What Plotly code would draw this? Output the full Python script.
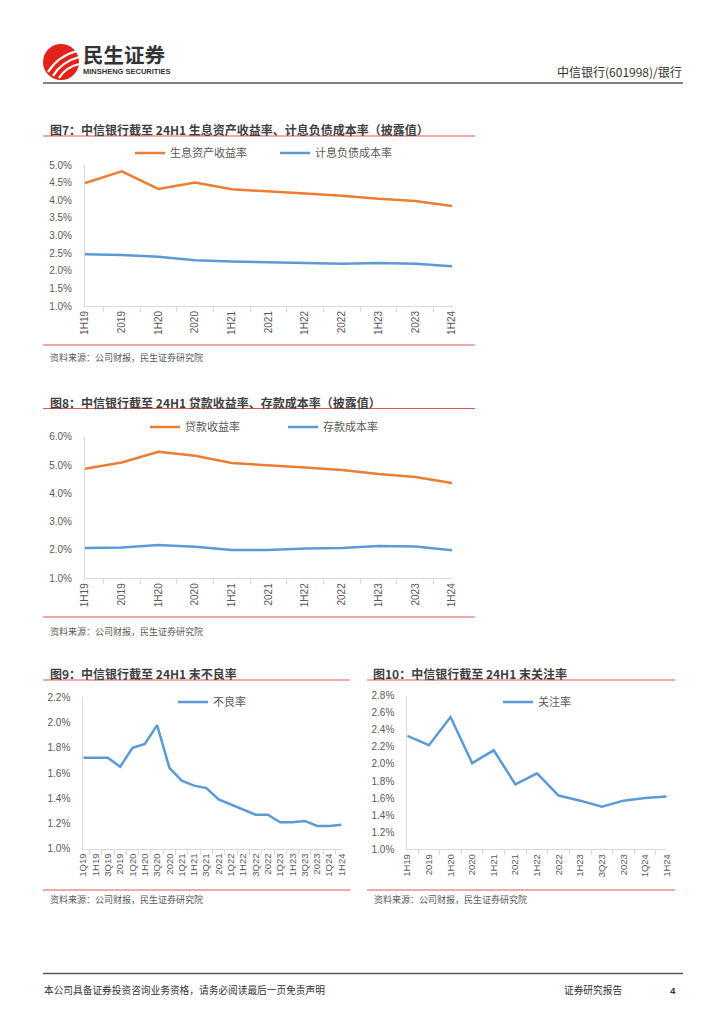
import plotly.graph_objects as go

W, H = 724, 1024


def px(x):
    return x / W


def py(y):
    return 1 - y / H


# ---------------- data ----------------
cats7 = ["1H19", "2019", "1H20", "2020", "1H21", "2021", "1H22", "2022", "1H23", "2023", "1H24"]
yield_assets = [4.49, 4.82, 4.32, 4.50, 4.31, 4.26, 4.19, 4.13, 4.04, 3.98, 3.84]
cost_liab = [2.47, 2.45, 2.40, 2.30, 2.26, 2.25, 2.22, 2.20, 2.22, 2.20, 2.13]

cats8 = ["1H19", "2019", "1H20", "2020", "1H21", "2021", "1H22", "2022", "1H23", "2023", "1H24"]
loan_yield = [4.87, 5.09, 5.47, 5.33, 5.07, 5.00, 4.91, 4.82, 4.68, 4.58, 4.36]
deposit_cost = [2.07, 2.09, 2.18, 2.11, 2.00, 2.00, 2.05, 2.07, 2.14, 2.12, 1.99]

cats9 = ["1Q19", "1H19", "3Q19", "2019", "1Q20", "1H20", "3Q20", "2020", "1Q21", "1H21", "3Q21",
         "2021", "1Q22", "1H22", "3Q22", "2022", "1Q23", "1H23", "3Q23", "2023", "1Q24", "1H24"]
npl_ratio = [1.72, 1.72, 1.72, 1.65, 1.80, 1.83, 1.98, 1.64, 1.54, 1.50, 1.48,
             1.39, 1.35, 1.31, 1.27, 1.27, 1.21, 1.21, 1.22, 1.18, 1.18, 1.19]

cats10 = ["1H19", "2019", "1H20", "2020", "1H21", "2021", "1H22", "2022", "1H23", "3Q23", "2023", "1Q24", "1H24"]
special_mention = [2.33, 2.22, 2.55, 2.01, 2.16, 1.76, 1.89, 1.63, 1.57, 1.50, 1.57, 1.60, 1.62]

ORANGE = "#ED7D31"
BLUE = "#5B9BD5"
RED = "#E05555"
GRAY_TXT = "#595959"
AXIS = "#D9D9D9"
FONT = "Liberation Sans, Noto Sans CJK SC, sans-serif"
CJK = "Noto Sans CJK SC, sans-serif"

fig = go.Figure()

fig.add_trace(go.Scatter(x=cats7, y=yield_assets, name="生息资产收益率", mode="lines",
                         line=dict(color=ORANGE, width=2.5), xaxis="x", yaxis="y", legend="legend"))
fig.add_trace(go.Scatter(x=cats7, y=cost_liab, name="计息负债成本率", mode="lines",
                         line=dict(color=BLUE, width=2.5), xaxis="x", yaxis="y", legend="legend"))
fig.add_trace(go.Scatter(x=cats8, y=loan_yield, name="贷款收益率", mode="lines",
                         line=dict(color=ORANGE, width=2.5), xaxis="x2", yaxis="y2", legend="legend2"))
fig.add_trace(go.Scatter(x=cats8, y=deposit_cost, name="存款成本率", mode="lines",
                         line=dict(color=BLUE, width=2.5), xaxis="x2", yaxis="y2", legend="legend2"))
fig.add_trace(go.Scatter(x=cats9, y=npl_ratio, name="不良率", mode="lines",
                         line=dict(color=BLUE, width=2.5), xaxis="x3", yaxis="y3", legend="legend3"))
fig.add_trace(go.Scatter(x=cats10, y=special_mention, name="关注率", mode="lines",
                         line=dict(color=BLUE, width=2.5), xaxis="x4", yaxis="y4", legend="legend4"))


def xax(dom, anchor, size=10):
    return dict(domain=[px(dom[0]), px(dom[1])], anchor=anchor, type="category", automargin=False,
                showline=True, linecolor=AXIS, linewidth=1, showgrid=False, zeroline=False,
                ticks="outside", tickson="boundaries", ticklen=5, tickcolor=AXIS,
                tickangle=-90, tickfont=dict(family=FONT, size=size, color=GRAY_TXT))


def yax(dom, anchor, rng, dtick):
    return dict(domain=[py(dom[1]), py(dom[0])], anchor=anchor, range=rng, dtick=dtick, automargin=False,
                tickformat=".1f", ticksuffix="%", showline=True, linecolor=AXIS, linewidth=1,
                showgrid=False, zeroline=False, ticks="", ticklabelstandoff=10,
                tickfont=dict(family=FONT, size=10, color=GRAY_TXT))


def leg(xl, yc, ew=0):
    d = dict(orientation="h", x=px(xl), y=py(yc), xanchor="left", yanchor="middle",
             bgcolor="rgba(0,0,0,0)", font=dict(family=CJK, size=11, color=GRAY_TXT),
             itemwidth=30)
    if ew:
        d["entrywidth"] = ew
        d["entrywidthmode"] = "pixels"
    return d


fig.update_layout(
    width=W, height=H, margin=dict(l=0, r=0, t=0, b=0, pad=0, autoexpand=False),
    paper_bgcolor="white", plot_bgcolor="white", showlegend=True,
    xaxis=xax((85, 452), "y"), yaxis=yax((165, 306), "x", [1.0, 5.0], 0.5),
    xaxis2=xax((85, 452), "y2"), yaxis2=yax((436.7, 578.3), "x2", [1.0, 6.0], 1.0),
    xaxis3=xax((83.3, 341.7), "y3", size=9.5), yaxis3=yax((697.3, 848.7), "x3", [1.0, 2.2], 0.2),
    xaxis4=xax((407.3, 666.7), "y4", size=9.5), yaxis4=yax((695.7, 849.3), "x4", [1.0, 2.8], 0.2),
    legend=leg(130, 153, 100), legend2=leg(145, 427, 93), legend3=leg(173, 702), legend4=leg(498, 702),
)

shapes = []
annos = []


def hline(x0, x1, y, color, width):
    shapes.append(dict(type="line", xref="paper", yref="paper", x0=px(x0), x1=px(x1),
                       y0=py(y), y1=py(y), line=dict(color=color, width=width)))


def text(x, y, s, size, color, bold=False, xanchor="left", family=CJK):
    annos.append(dict(xref="paper", yref="paper", x=px(x), y=py(y), text=("<b>%s</b>" % s) if bold else s,
                      showarrow=False, xanchor=xanchor, yanchor="middle", borderpad=0,
                      font=dict(family=family, size=size, color=color)))


# header
shapes.append(dict(type="circle", xref="paper", yref="paper", x0=px(43), x1=px(79), y0=py(80), y1=py(44),
                   fillcolor="#E2231A", line=dict(width=0)))
for (a, b, c) in [((48, 72), (58, 56), (77, 51)), ((53, 76), (61, 62), (79, 57)), ((59, 78), (66, 67), (79, 64))]:
    path = "M %f,%f Q %f,%f %f,%f" % (px(a[0]), py(a[1]), px(b[0]), py(b[1]), px(c[0]), py(c[1]))
    shapes.append(dict(type="path", xref="paper", yref="paper", path=path, line=dict(color="white", width=2.2)))
text(82, 54, "民生证券", 20.5, "#333333", bold=True)
text(82, 71, "MINSHENG SECURITIES", 7.5, "#333333", bold=True, family="Liberation Sans, sans-serif")
text(683, 71, "中信银行(601998)/银行", 12, "#333333", xanchor="right")
hline(43, 683, 83, "#595959", 1.5)

# chart titles and rules
text(49, 129, "图7：中信银行截至 24H1 生息资产收益率、计息负债成本率（披露值）", 12, "#3F3F3F", bold=True)
hline(43, 475, 136, RED, 1.2)
hline(43, 475, 345, RED, 1.2)
text(49, 357, "资料来源：公司财报，民生证券研究院", 9, GRAY_TXT)

text(49, 402, "图8：中信银行截至 24H1 贷款收益率、存款成本率（披露值）", 12, "#3F3F3F", bold=True)
hline(43, 475, 408.5, RED, 1.2)
hline(43, 475, 617, RED, 1.2)
text(49, 631, "资料来源：公司财报，民生证券研究院", 9, GRAY_TXT)

text(49, 673, "图9：中信银行截至 24H1 末不良率", 12, "#3F3F3F", bold=True)
hline(43, 350, 680, RED, 1.2)
hline(43, 350, 890, RED, 1.2)
text(49, 899, "资料来源：公司财报，民生证券研究院", 9, GRAY_TXT)

text(372, 673, "图10：中信银行截至 24H1 末关注率", 12, "#3F3F3F", bold=True)
hline(367, 675, 680, RED, 1.2)
hline(367, 675, 890, RED, 1.2)
text(373, 899, "资料来源：公司财报，民生证券研究院", 9, GRAY_TXT)

# footer
hline(43, 683, 973.5, "#595959", 1.5)
text(43, 990, "本公司具备证券投资咨询业务资格，请务必阅读最后一页免责声明", 9.7, "#333333")
text(563, 990, "证券研究报告", 9.7, "#333333")
text(669, 990, "4", 9.7, "#333333", bold=True, family="Liberation Sans, sans-serif")

fig.update_layout(shapes=shapes, annotations=annos)

fig.write_html("out.html", config={"displayModeBar": False},
               post_script=("document.body.style.margin='0';document.body.style.padding='0';"
                            "document.documentElement.style.overflow='hidden';"
                            "document.body.style.overflow='hidden';"))
